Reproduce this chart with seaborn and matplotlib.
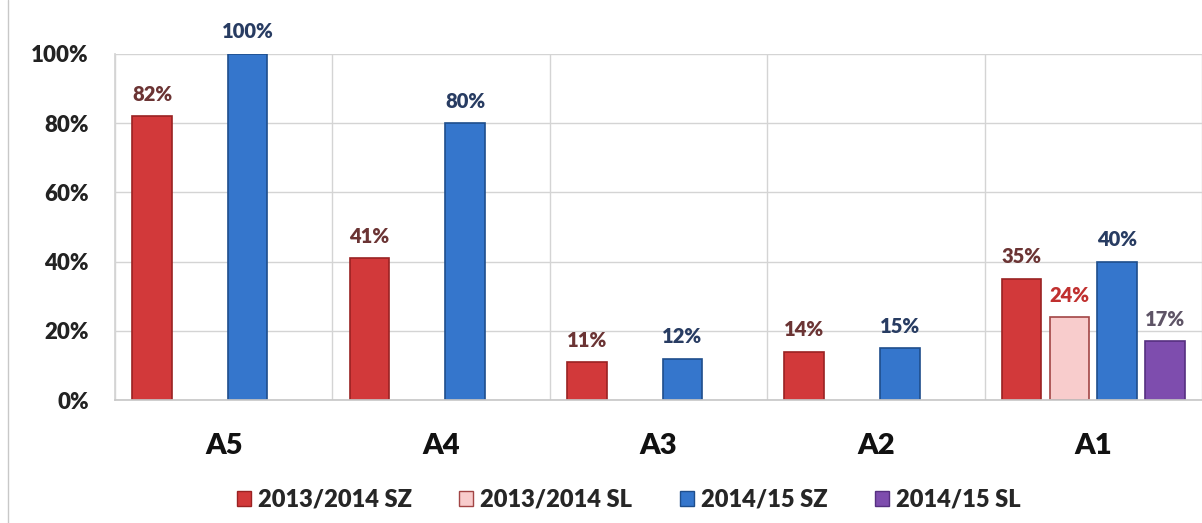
import numpy as np
import pandas as pd
import matplotlib
matplotlib.use("Agg")
import matplotlib.pyplot as plt
import seaborn as sns
from matplotlib.lines import Line2D

categories = ["A5", "A4", "A3", "A2", "A1"]
series = ["2013/2014 SZ", "2013/2014 SL", "2014/15 SZ", "2014/15 SL"]
sz_1314 = [82, 41, 11, 14, 35]
sl_1314 = [np.nan, np.nan, np.nan, np.nan, 24]
sz_1415 = [100, 80, 12, 15, 40]
sl_1415 = [np.nan, np.nan, np.nan, np.nan, 17]
yticks = [0, 20, 40, 60, 80, 100]

values = [sz_1314, sl_1314, sz_1415, sl_1415]
rows = []
for s, vals in zip(series, values):
    for c, v in zip(categories, vals):
        rows.append({"cat": c, "series": s, "value": v / 100.0})
df = pd.DataFrame(rows)

face = ["#D2393A", "#F8CCCC", "#3576CC", "#7E4DAE"]
edge = ["#9A2222", "#A24545", "#1F4E8C", "#563080"]
lab_col = ["#6B3434", "#C0302F", "#283C62", "#5E5466"]

sns.set_theme(style="white")
plt.rcParams["font.family"] = ["Lato", "DejaVu Sans"]

fig = plt.figure(figsize=(12.02, 5.23), dpi=100)
ax = fig.add_axes([0.0957, 0.235, 0.9043, 0.662])

sns.barplot(data=df, x="cat", y="value", hue="series", order=categories,
            hue_order=series, palette=face, width=0.88, gap=0.17,
            ax=ax, legend=False, saturation=1)

for i, cont in enumerate(ax.containers):
    labels = []
    for bar in cont:
        bar.set_edgecolor(edge[i])
        bar.set_linewidth(1.2)
        h = bar.get_height()
        labels.append(f"{h*100:.0f}%" if np.isfinite(h) and h > 0 else "")
    ax.bar_label(cont, labels=labels, padding=9, color=lab_col[i],
                 fontsize=14.5, fontweight="heavy")

ax.set_xlim(-0.5, len(categories) - 0.5)
ax.set_ylim(0, 1.0)
ax.set_yticks([t / 100 for t in yticks])
ax.set_yticklabels([f"{t}%" for t in yticks], fontsize=16, fontweight="heavy",
                   color="#222222")
ax.set_xticks(range(len(categories)))
ax.set_xticklabels(categories, fontsize=21, fontweight="heavy", color="#111111")
ax.set_xticks(np.arange(-0.5, len(categories), 1.0), minor=True)
ax.tick_params(axis="x", which="major", length=0, pad=24)
ax.tick_params(axis="x", which="minor", length=0)
ax.tick_params(axis="y", length=0, pad=19)
ax.set_xlabel("")
ax.set_ylabel("")
ax.grid(axis="y", which="major", color="#D4D4D4", linewidth=1)
ax.grid(axis="x", which="minor", color="#D4D4D4", linewidth=1)
ax.set_axisbelow(True)
for sp in ["top", "right"]:
    ax.spines[sp].set_visible(False)
ax.spines["left"].set_color("#D4D4D4")
ax.spines["bottom"].set_color("#C8C8C8")

handles = [plt.Rectangle((0, 0), 1, 1, facecolor=face[i], edgecolor=edge[i])
           for i in range(len(series))]
fig.legend(handles, series, loc="center", bbox_to_anchor=(0.523, 0.045),
           ncol=4, frameon=False, handlelength=0.6, handleheight=0.6,
           handletextpad=0.3, columnspacing=2.0,
           prop={"size": 17, "weight": "heavy"})

fig.add_artist(Line2D([0.0066, 0.0066], [0, 1], transform=fig.transFigure,
                      color="#C8C8C8", linewidth=1))

fig.savefig("out.png", dpi=100)
